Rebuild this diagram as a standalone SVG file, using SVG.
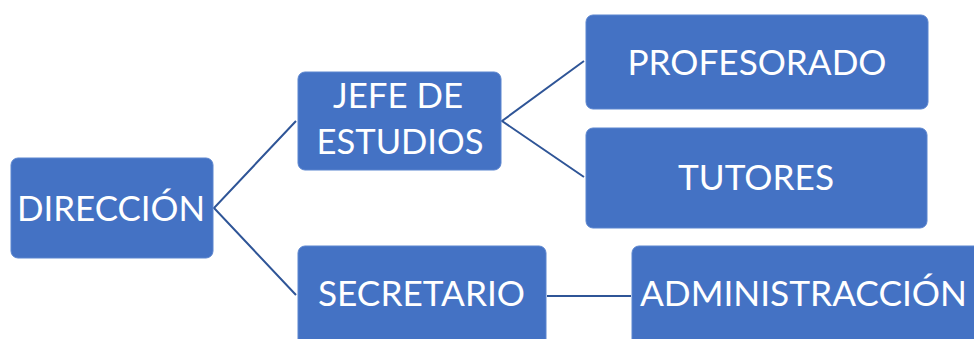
<svg xmlns="http://www.w3.org/2000/svg" width="974" height="339" viewBox="0 0 974 339">
<style>
.box{fill:#4472C4;stroke:#5B85CF;stroke-width:1}
.lbl{font-family:Lato,"Open Sans","Liberation Sans",sans-serif;font-size:35px;fill:#FFFFFF;text-anchor:middle}
.con{stroke:#2F5597;stroke-width:2;fill:none}
</style>
<rect width="974" height="339" fill="#FFFFFF"/>
<g id="connectors">
<polyline class="con" points="296,121 214,208 296,295"/>
<polyline class="con" points="584,61 502,121 584,177"/>
<line class="con" x1="547" y1="296" x2="631" y2="296"/>
</g>
<g id="direccion">
<rect class="box" x="11" y="158" width="202" height="100" rx="7"/>
<text class="lbl" x="111" y="221" textLength="188" lengthAdjust="spacingAndGlyphs">DIRECCIÓN</text>
</g>
<g id="jefe">
<rect class="box" x="298" y="72" width="203" height="98" rx="7"/>
<text class="lbl" x="398" y="108" textLength="130" lengthAdjust="spacingAndGlyphs">JEFE DE</text>
<text class="lbl" x="400" y="154" textLength="167" lengthAdjust="spacingAndGlyphs">ESTUDIOS</text>
</g>
<g id="profesorado">
<rect class="box" x="586" y="15" width="342" height="94" rx="7"/>
<text class="lbl" x="757" y="75" textLength="259" lengthAdjust="spacingAndGlyphs">PROFESORADO</text>
</g>
<g id="tutores">
<rect class="box" x="586" y="128" width="341" height="100" rx="7"/>
<text class="lbl" x="756" y="190" textLength="156" lengthAdjust="spacingAndGlyphs">TUTORES</text>
</g>
<g id="secretario">
<rect class="box" x="298" y="246" width="248" height="120" rx="7"/>
<text class="lbl" x="421.5" y="306" textLength="207" lengthAdjust="spacingAndGlyphs">SECRETARIO</text>
</g>
<g id="administracion">
<rect class="box" x="632" y="246" width="360" height="120" rx="7"/>
<text class="lbl" x="803.5" y="306" textLength="327" lengthAdjust="spacingAndGlyphs">ADMINISTRACCIÓN</text>
</g>
</svg>
